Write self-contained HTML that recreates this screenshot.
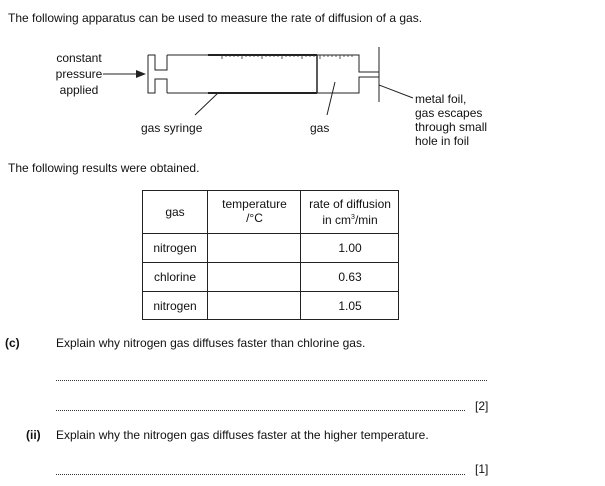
<!DOCTYPE html>
<html><head><style>
body{margin:0;width:605px;height:486px;background:#fff;position:relative;font-family:"Liberation Sans",Arial,sans-serif;font-size:12px;color:#111;overflow:hidden}
.t{position:absolute;white-space:nowrap;line-height:14px}
.c{text-align:center}
</style></head><body>
<div class="t" style="left:8px;top:11px">The following apparatus can be used to measure the rate of diffusion of a gas.</div>
<div class="t c" style="left:44px;top:50px;width:70px;line-height:16px">constant<br>pressure<br>applied</div>
<div class="t" style="left:141px;top:121px">gas syringe</div>
<div class="t" style="left:310px;top:121px">gas</div>
<div class="t" style="left:415px;top:92px;line-height:14px">metal foil,<br>gas escapes<br>through small<br>hole in foil</div>
<svg style="position:absolute;left:0;top:0" width="605" height="486">
<g stroke="#222" fill="none" stroke-width="1">
<path d="M148,55 H155 V70 H167 V55 M148,55 V93 H155 V79 H167 V93"/>
<path d="M167,55 H359 V72 H379 M167,93 H359 V77 H379"/>
<path d="M379,47 V102"/>
<path d="M317,55 V93" stroke-width="1.5"/>
<path d="M208,55 H317 M208,93 H317" stroke-width="2"/>
<path d="M103,74 H138"/>
<path d="M218,93 L195,115 M335,82 L327,115 M379,85 L413,98"/>
</g>
<path d="M146,74 L136,70 L136,78 Z" fill="#222"/>
<g stroke="#333" stroke-width="0.8">
<path d="M222,55v4M226,55v2M230,55v2M234,55v2M238,55v2M242,55v4M246,55v2M250,55v2M254,55v2M258,55v2M262,55v4M266,55v2M270,55v2M274,55v2M278,55v2M282,55v4M286,55v2M290,55v2M294,55v2M298,55v2M302,55v4M306,55v2M310,55v2M314,55v2M320,55v4M324,55v2M328,55v2M332,55v2M336,55v2M340,55v4M344,55v2M348,55v2M352,55v2"/>
</g>
</svg>
<div class="t" style="left:8px;top:161px">The following results were obtained.</div>
<svg style="position:absolute;left:0;top:0" width="605" height="486">
<g stroke="#222" stroke-width="1" fill="none">
<rect x="142.5" y="190.5" width="256" height="129"/>
<path d="M207.5,190 V320 M300.5,190 V320 M142,233.5 H399 M142,262.5 H399 M142,291.5 H399"/>
</g>
</svg>
<div class="t c" style="left:142px;top:205px;width:66px">gas</div>
<div class="t c" style="left:208px;top:197px;width:93px">temperature<br>/°C</div>
<div class="t c" style="left:301px;top:197px;width:98px">rate of diffusion<br>in cm<sup style="font-size:7px">3</sup>/min</div>
<div class="t c" style="left:142px;top:241px;width:66px">nitrogen</div>
<div class="t c" style="left:142px;top:270px;width:66px">chlorine</div>
<div class="t c" style="left:142px;top:299px;width:66px">nitrogen</div>
<div class="t c" style="left:301px;top:241px;width:98px">1.00</div>
<div class="t c" style="left:301px;top:270px;width:98px">0.63</div>
<div class="t c" style="left:301px;top:299px;width:98px">1.05</div>
<div class="t" style="left:5px;top:336px;font-weight:bold">(c)</div>
<div class="t" style="left:56px;top:336px">Explain why nitrogen gas diffuses faster than chlorine gas.</div>
<div style="position:absolute;left:56px;top:380px;width:431px;border-top:1.5px dotted #333"></div>
<div style="position:absolute;left:56px;top:410px;width:409px;border-top:1.5px dotted #333"></div>
<div class="t" style="left:475px;top:399px">[2]</div>
<div class="t" style="left:26px;top:428px;font-weight:bold">(ii)</div>
<div class="t" style="left:56px;top:428px">Explain why the nitrogen gas diffuses faster at the higher temperature.</div>
<div style="position:absolute;left:56px;top:474px;width:409px;border-top:1.5px dotted #333"></div>
<div class="t" style="left:475px;top:462px">[1]</div>
</body></html>
